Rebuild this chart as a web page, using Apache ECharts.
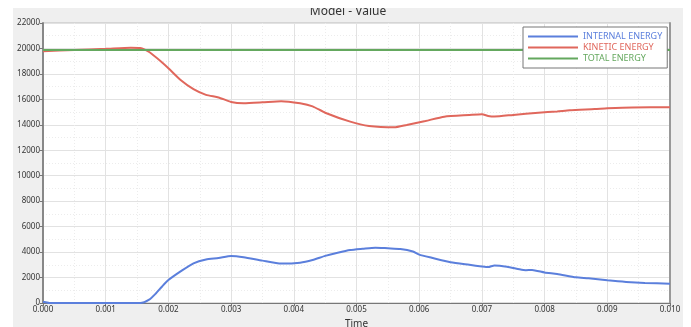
<!DOCTYPE html>
<html>
<head>
<meta charset="utf-8">
<script src="https://cdn.jsdelivr.net/npm/echarts@6/dist/echarts.min.js"></script>
<style>
html,body{margin:0;padding:0;background:#fff;width:691px;height:327px;overflow:hidden;}
#chart{position:absolute;left:13px;top:8px;width:670px;height:319px;}
</style>
</head>
<body>
<div id="chart"></div>
<script>
const titleText = 'Model - Value';
const xAxisName = 'Time';
const seriesNames = ['INTERNAL ENERGY', 'KINETIC ENERGY', 'TOTAL ENERGY'];
const seriesColors = ['#5b7fdc', '#e0675c', '#64a85e'];

const internalT = [0, 0.00003, 0.0001, 0.0005, 0.001, 0.00155, 0.0017, 0.0018, 0.0019, 0.002, 0.0022, 0.0024, 0.0026, 0.0028, 0.003, 0.0032, 0.0035, 0.0038, 0.0041, 0.0043, 0.0045, 0.0047, 0.0049, 0.0051, 0.0053, 0.0055, 0.0057, 0.0059, 0.006, 0.0062, 0.0065, 0.0068, 0.007, 0.0071, 0.0072, 0.0074, 0.0076, 0.0077, 0.0078, 0.008, 0.0082, 0.0085, 0.0087, 0.009, 0.0093, 0.0096, 0.01];
const internalV = [80, 80, 0, 0, 0, 0, 290, 750, 1300, 1800, 2500, 3120, 3420, 3530, 3700, 3600, 3330, 3100, 3170, 3380, 3700, 3950, 4160, 4260, 4350, 4300, 4250, 4050, 3800, 3550, 3200, 3000, 2870, 2820, 2950, 2850, 2650, 2580, 2600, 2400, 2280, 2020, 1940, 1780, 1650, 1570, 1520];

const kineticT = [0, 0.0005, 0.001, 0.0014, 0.00155, 0.0017, 0.0019, 0.002, 0.0022, 0.0024, 0.0026, 0.0028, 0.003, 0.0032, 0.0035, 0.0038, 0.0041, 0.0043, 0.0045, 0.0049, 0.0052, 0.0056, 0.0058, 0.0061, 0.0064, 0.0068, 0.007, 0.0071, 0.0072, 0.0075, 0.0079, 0.0082, 0.0084, 0.0088, 0.009, 0.0094, 0.01];
const kineticV = [19780, 19880, 19970, 20060, 20040, 19700, 18900, 18450, 17500, 16800, 16350, 16150, 15800, 15700, 15770, 15860, 15690, 15450, 14950, 14250, 13910, 13800, 13990, 14300, 14640, 14770, 14830, 14700, 14650, 14780, 14950, 15050, 15150, 15240, 15300, 15370, 15380];

const totalT = [0, 0.01];
const totalV = [19880, 19880];

const xTicks = ['0.000','0.001','0.002','0.003','0.004','0.005','0.006','0.007','0.008','0.009','0.010'];
const yTicks = [0, 2000, 4000, 6000, 8000, 10000, 12000, 14000, 16000, 18000, 20000, 22000];

function pairs(t, v) { return t.map((x, i) => [x, v[i]]); }

const font = 'Noto Sans';
const chart = echarts.init(document.getElementById('chart'));
const gridStyle = { show: true, lineStyle: { color: '#e2e2e2', width: 1 } };
const minorStyle = { show: true, lineStyle: { color: '#ececec', width: 1, type: [1, 2] } };
const rich = {};
seriesColors.forEach((c, i) => { rich['c' + i] = { color: c, fontFamily: font, fontSize: 9 }; });
chart.setOption({
  backgroundColor: '#efefef',
  animation: false,
  textStyle: { fontFamily: font },
  title: {
    text: titleText, left: 'center', top: -7,
    textStyle: { fontFamily: font, fontSize: 12, fontWeight: 'normal', color: '#333' }
  },
  legend: {
    orient: 'vertical', left: 510, top: 19,
    padding: [4, 5, 4, 5], itemGap: 0,
    backgroundColor: '#fff', borderColor: '#777', borderWidth: 1,
    itemWidth: 50, itemHeight: 2, icon: 'rect',
    data: seriesNames,
    textStyle: { fontFamily: font, fontSize: 9, lineHeight: 11, rich: rich },
    formatter: n => '{' + 'c' + seriesNames.indexOf(n) + '|' + n + '}',
  },
  grid: { left: 30, right: 13, top: 15, bottom: 24, outerBoundsMode: 'none', containLabel: false, show: true, backgroundColor: '#fff', borderColor: '#bbb', borderWidth: 1 },
  xAxis: {
    type: 'value', min: 0, max: 0.01, interval: 0.001,
    name: xAxisName, nameLocation: 'middle', nameGap: 13,
    nameTextStyle: { fontFamily: font, fontSize: 10, color: '#333' },
    axisLine: { show: true, lineStyle: { color: '#777', width: 1 } },
    axisTick: { show: true, length: 3, lineStyle: { color: '#777' } },
    axisLabel: { fontFamily: font, fontSize: 8, color: '#333', margin: 3, formatter: v => xTicks[Math.round(v / 0.001)] },
    splitLine: gridStyle,
    minorTick: { show: false, splitNumber: 2 },
    minorSplitLine: minorStyle
  },
  yAxis: [{
    type: 'value', min: 0, max: 22000, interval: 2000,
    axisLine: { show: true, lineStyle: { color: '#888', width: 2 } },
    axisTick: { show: true, length: 3, lineStyle: { color: '#777' } },
    axisLabel: { fontFamily: font, fontSize: 8, color: '#333', margin: 3, formatter: v => (yTicks.indexOf(v) >= 0 ? String(v) : '') },
    splitLine: gridStyle,
    minorTick: { show: false, splitNumber: 2 },
    minorSplitLine: minorStyle
  }, {
    type: 'value', min: 0, max: 22000, interval: 2000, position: 'right',
    axisLine: { show: true, lineStyle: { color: '#999', width: 2 } },
    axisTick: { show: false }, axisLabel: { show: false }, splitLine: { show: false }
  }],
  series: [
    { name: seriesNames[0], type: 'line', data: pairs(internalT, internalV), showSymbol: false, symbol: 'none', smooth: 0.2, lineStyle: { width: 2, color: seriesColors[0] }, itemStyle: { color: seriesColors[0] } },
    { name: seriesNames[1], type: 'line', data: pairs(kineticT, kineticV), showSymbol: false, symbol: 'none', smooth: 0.2, lineStyle: { width: 2, color: seriesColors[1] }, itemStyle: { color: seriesColors[1] } },
    { name: seriesNames[2], type: 'line', data: pairs(totalT, totalV), showSymbol: false, symbol: 'none', lineStyle: { width: 2, color: seriesColors[2] }, itemStyle: { color: seriesColors[2] } }
  ]
});
</script>
</body>
</html>
